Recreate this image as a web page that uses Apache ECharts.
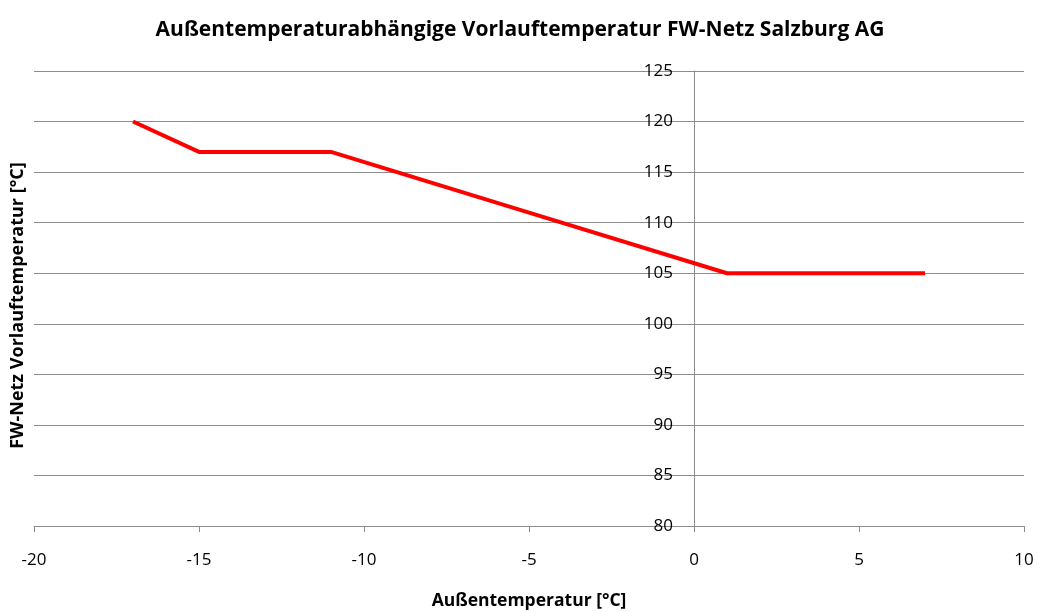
<!DOCTYPE html>
<html>
<head>
<meta charset="utf-8">
<script src="https://cdn.jsdelivr.net/npm/echarts@6/dist/echarts.min.js"></script>
<style>
  html, body { margin: 0; padding: 0; background: #fff; }
  #chart { width: 1040px; height: 612px; }
</style>
</head>
<body>
<div id="chart"></div>
<script>
// Außentemperatur [°C] und Vorlauftemperatur [°C]
const aussenTemp = [-17, -15, -11, -5, 1, 7];
const vorlaufTemp = [120, 117, 117, 111, 105, 105];

const xTicks = { min: -20, max: 10, interval: 5 };
const yTicks = { min: 80, max: 125, interval: 5 };

const fontFam = 'Open Sans, Liberation Sans, sans-serif';
const gridLeft = 34, gridRight = 16;
const plotWidth = 1040 - gridLeft - gridRight;
// y-Achse liegt bei x = 0
const yAxisOffset = -plotWidth * (0 - xTicks.min) / (xTicks.max - xTicks.min);

const mychart = echarts.init(document.getElementById('chart'));
const option = {
    backgroundColor: '#fff',
    animation: false,
    title: {
        text: 'Außentemperaturabhängige Vorlauftemperatur FW-Netz Salzburg AG',
        left: 'center',
        top: 15,
        textStyle: { fontFamily: fontFam, fontSize: 21, fontWeight: 'bold', color: '#000' }
    },
    grid: { left: gridLeft, right: gridRight, top: 71, bottom: 86, containLabel: false, outerBoundsMode: 'none' },
    xAxis: {
        type: 'value',
        min: xTicks.min,
        max: xTicks.max,
        interval: xTicks.interval,
        name: 'Außentemperatur [°C]',
        nameLocation: 'middle',
        nameGap: 66,
        nameTextStyle: { fontFamily: fontFam, fontSize: 17.5, fontWeight: 'bold', color: '#000' },
        axisLine: { onZero: false, lineStyle: { color: '#8c8c8c', width: 1 } },
        axisTick: { show: true, length: 6, lineStyle: { color: '#8c8c8c' } },
        axisLabel: { margin: 26, fontFamily: fontFam, fontSize: 17, color: '#000' },
        splitLine: { show: false }
    },
    yAxis: [{
        type: 'value',
        position: 'left',
        offset: yAxisOffset,
        min: yTicks.min,
        max: yTicks.max,
        interval: yTicks.interval,
        axisLine: { show: true, onZero: false, lineStyle: { color: '#8c8c8c', width: 1 } },
        axisTick: { show: true, length: 8, lineStyle: { color: '#8c8c8c' } },
        axisLabel: { margin: 21, fontFamily: fontFam, fontSize: 17, color: '#000' },
        splitLine: { show: true, lineStyle: { color: '#8c8c8c', width: 1 } }
    }, {
        // nur für den Achsentitel links
        type: 'value',
        position: 'left',
        min: yTicks.min,
        max: yTicks.max,
        name: 'FW-Netz Vorlauftemperatur [°C]',
        nameLocation: 'middle',
        nameGap: 7,
        nameTextStyle: { fontFamily: fontFam, fontSize: 18, fontWeight: 'bold', color: '#000', padding: [0, 14, 0, 0] },
        axisLine: { show: false, onZero: false },
        axisTick: { show: false },
        axisLabel: { show: false },
        splitLine: { show: false }
    }],
    series: [{
        type: 'line',
        data: aussenTemp.map((x, i) => [x, vorlaufTemp[i]]),
        showSymbol: false,
        symbol: 'none',
        lineStyle: { color: '#ff0000', width: 4 },
        itemStyle: { color: '#ff0000' }
    }]
};
mychart.setOption(option);
</script>
</body>
</html>
